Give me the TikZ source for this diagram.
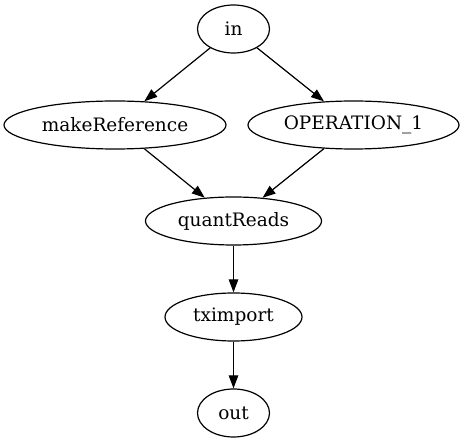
\documentclass[tikz,border=0pt]{standalone}
\usepackage{fontspec}
\setmainfont{DejaVu Serif}
\usetikzlibrary{shapes.geometric,arrows.meta}
\begin{document}
\begin{tikzpicture}[x=1pt,y=-1pt,
  nd/.style={draw,ellipse,line width=1.2pt,inner sep=0pt,minimum height=48pt,font=\fontsize{18.5pt}{22pt}\selectfont},
  edge/.style={draw,line width=1.2pt,-{Triangle[length=13pt,width=9.5pt]}}]
\useasboundingbox (0,0) rectangle (464,443);
\node[nd,minimum width=72pt] (in) at (233.5,29) {in};
\node[nd,minimum width=222pt] (mr) at (115,125) {makeReference};
\node[nd,minimum width=211pt] (op) at (353.5,125) {OPERATION\_1};
\node[nd,minimum width=176pt] (qr) at (233.5,221) {quantReads};
\node[nd,minimum width=137pt] (tx) at (233.5,317) {tximport};
\node[nd,minimum width=72pt] (out) at (233.5,413) {out};
\draw[edge] (in) -- (mr);
\draw[edge] (in) -- (op);
\draw[edge] (mr) -- (qr);
\draw[edge] (op) -- (qr);
\draw[edge] (qr) -- (tx);
\draw[edge] (tx) -- (out);
\end{tikzpicture}
\end{document}
